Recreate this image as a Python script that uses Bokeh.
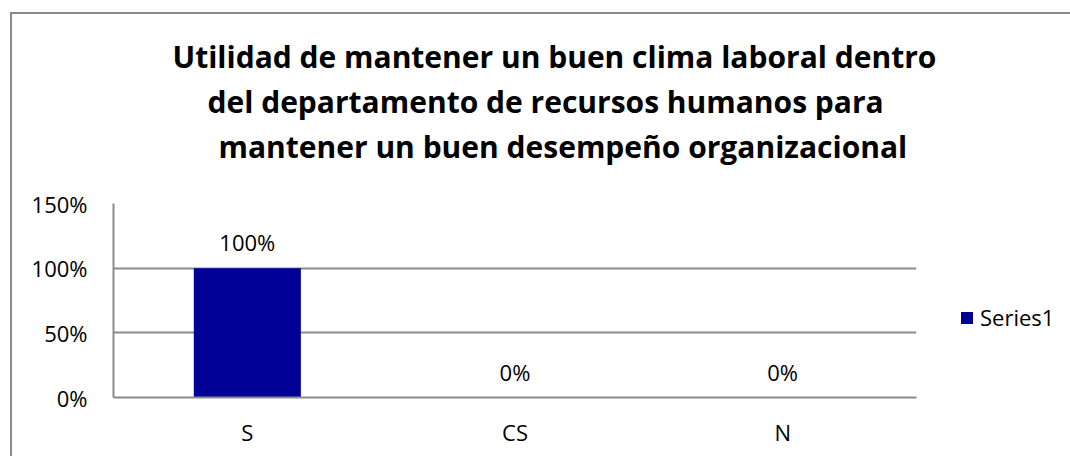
from bokeh.plotting import figure
from bokeh.layouts import row
from bokeh.models import (ColumnDataSource, FactorRange, Range1d, FixedTicker,
                          NumeralTickFormatter, LabelSet, Title, Legend, LegendItem)
from bokeh.core.properties import value
from bokeh.embed import file_html
from bokeh.resources import INLINE

# ---- data ----
categories = ["S", "CS", "N"]
values = [1.0, 0.0, 0.0]
data_labels = ["100%", "0%", "0%"]
y_ticks = [0, 0.5, 1.0, 1.5]
series_name = "Series1"
title_lines = [
    "Utilidad de mantener un buen clima laboral dentro",
    "del departamento de recursos humanos para",
    "mantener un buen desempeño organizacional",
]

FONT = "Open Sans"
GRID = "#8a8a8a"
BAR = "#000096"

# canvas origin sits at page (12, 14): 10/12 px margin + 2 px border
W, H = 924, 442
W_LEG = 134
F_LEFT, F_RIGHT, F_TOP, F_BOTTOM = 101, 904, 189, 383

src = ColumnDataSource(dict(cat=categories, val=values, lbl=data_labels))

p = figure(width=W, height=H, output_backend="svg", toolbar_location=None, title=None,
           x_range=FactorRange(*categories, range_padding=0),
           y_range=Range1d(0, 1.5),
           min_border_left=F_LEFT, min_border_right=W - F_RIGHT,
           min_border_top=F_TOP, min_border_bottom=H - F_BOTTOM)
p.outline_line_color = None
p.background_fill_color = "white"
p.border_fill_color = "white"

r = p.vbar(x="cat", top="val", width=0.4, source=src, fill_color=BAR, line_color=None)

# axes
p.yaxis.ticker = FixedTicker(ticks=y_ticks)
p.yaxis.formatter = NumeralTickFormatter(format="0%")
for ax in (p.xaxis[0], p.yaxis[0]):
    ax.axis_line_color = GRID
    ax.axis_line_width = 2
    ax.major_tick_line_color = None
    ax.minor_tick_line_color = None
    ax.major_tick_out = 0
    ax.major_tick_in = 0
    ax.major_label_text_font = FONT
    ax.major_label_text_font_size = "22px"
    ax.major_label_text_color = "#000000"
p.yaxis.major_label_standoff = 26
p.xaxis.major_label_standoff = 19

p.xgrid.grid_line_color = None
p.ygrid.ticker = FixedTicker(ticks=y_ticks)
p.ygrid.grid_line_color = GRID
p.ygrid.grid_line_width = 2

# data labels
p.add_layout(LabelSet(x="cat", y="val", text="lbl", source=src, y_offset=26,
                      text_align="center", text_baseline="middle",
                      text_font=value(FONT), text_font_size="22px", text_color="#000000"))

# spacer between the plot area and the title block
p.add_layout(Title(text=" ", text_font_size="10px", standoff=23), "above")
# title: three lines, nearest-to-frame first (left-aligned with offsets so each is centred
# where the reference centres it)
line_offsets = [59, 94, 105]
for line, off in reversed(list(zip(title_lines, line_offsets))):
    p.add_layout(Title(text=line, align="left", offset=off,
                       text_font=FONT, text_font_style="bold", text_font_size="30px",
                       text_color="#000000", standoff=2), "above")

# legend panel (separate canvas to the right of the plot area); its swatch renderer
# shares the series style, on a continuous range so that it draws no marks itself
pl = figure(width=W_LEG, height=H, output_backend="svg", toolbar_location=None, title=None,
            x_axis_location=None, y_axis_location=None,
            x_range=Range1d(0, 1), y_range=Range1d(0, 1), min_border=0)
pl.outline_line_color = None
pl.grid.grid_line_color = None
pl.border_fill_color = "white"
pl.background_fill_color = "white"
swatch = pl.vbar(x="cat", top="val", width=0.4, source=src, fill_color=BAR, line_color=None)
legend = Legend(items=[LegendItem(label=series_name, renderers=[swatch])],
                location=(23, 65), orientation="vertical",
                border_line_color=None, background_fill_alpha=0,
                padding=0, margin=0, spacing=0,
                glyph_width=15, glyph_height=15, label_standoff=6,
                label_text_font=FONT, label_text_font_size="22px",
                label_text_color="#000000")
pl.add_layout(legend, "center")

page = row(p, pl, margin=(12, 0, 0, 10), spacing=0,
           styles={"border-left": f"2px solid {GRID}", "border-top": f"2px solid {GRID}"})

open("out.html", "w").write(file_html(page, INLINE))
